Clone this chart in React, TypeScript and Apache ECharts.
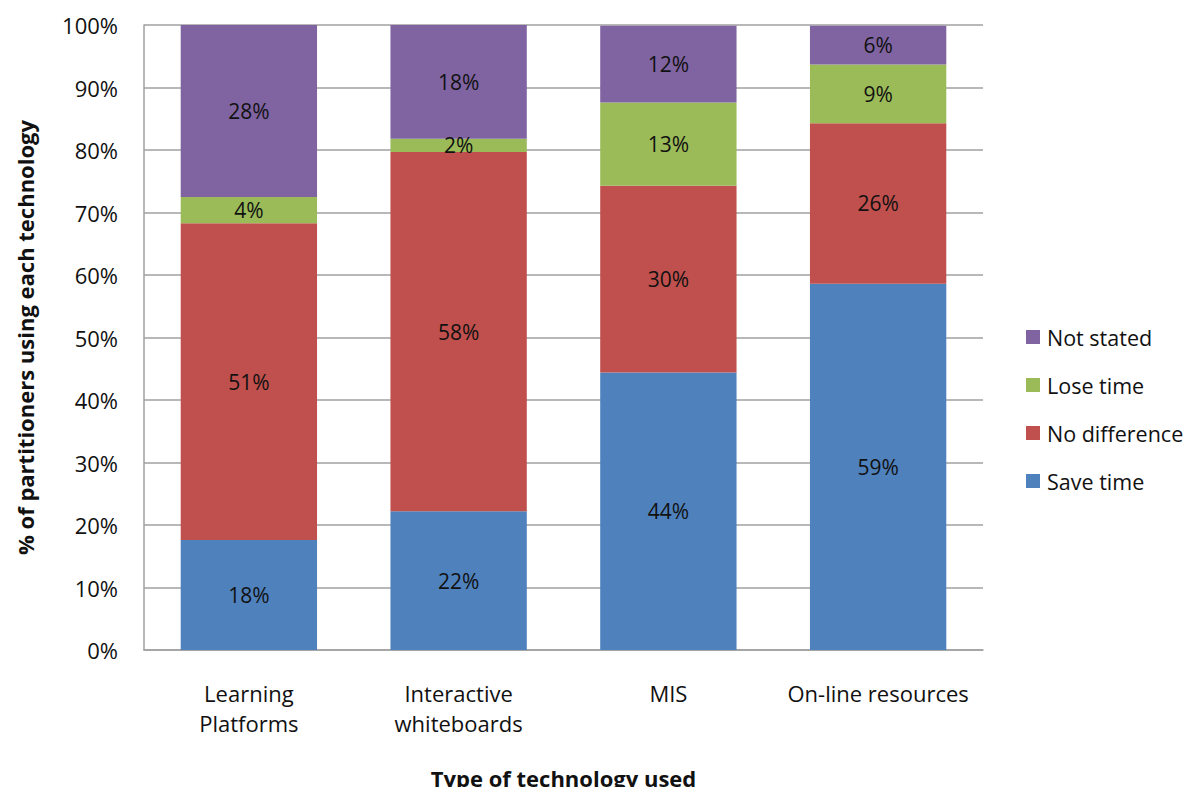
import React, { useEffect, useRef } from "react";
import * as echarts from "echarts";

const categories = ["Learning\nPlatforms", "Interactive\nwhiteboards", "MIS", "On-line resources"];
const saveTime = [17.6, 22.2, 44.4, 58.6];
const noDifference = [50.7, 57.5, 29.9, 25.7];
const loseTime = [4.2, 2.1, 13.3, 9.4];
const notStated = [27.5, 18.2, 12.3, 6.2];
const yTicks = [0, 10, 20, 30, 40, 50, 60, 70, 80, 90, 100];

const FONT = "'Open Sans', 'Noto Sans', sans-serif";

export default function App() {
  const ref = useRef<HTMLDivElement>(null);
  useEffect(() => {
    if (!ref.current) return;
    const chart = echarts.init(ref.current, undefined, { renderer: "svg" });
    const mkSeries = (name: string, data: number[], color: string) => ({
      name,
      type: "bar",
      stack: "total",
      data,
      barWidth: "65%",
      itemStyle: { color },
      label: {
        show: true,
        position: "inside",
        color: "#111",
        fontFamily: FONT,
        fontSize: 21,
        formatter: (p: any) => Math.round(p.value) + "%",
      },
    });
    chart.setOption({
      animation: false,
      backgroundColor: "#fff",
      textStyle: { fontFamily: FONT },
      grid: {
        left: 144,
        right: 211,
        top: 25,
        bottom: 137,
        containLabel: false,
        outerBoundsMode: "none",
      },
      legend: {
        orient: "vertical",
        left: 1021,
        top: 321,
        itemWidth: 14,
        itemHeight: 14,
        itemGap: 26,
        icon: "rect",
        data: ["Not stated", "Lose time", "No difference", "Save time"],
        textStyle: { fontFamily: FONT, fontSize: 21.5, color: "#111", lineHeight: 20, padding: [0, 0, 0, 2] },
      },
      xAxis: {
        type: "category",
        data: categories,
        name: "Type of technology used",
        nameLocation: "middle",
        nameGap: 117,
        nameTextStyle: { fontFamily: FONT, fontSize: 22, fontWeight: "bold", color: "#111" },
        axisLine: { lineStyle: { color: "#a0a0a0", width: 1.5 } },
        axisTick: { show: false },
        axisLabel: { fontFamily: FONT, fontSize: 22, color: "#111", lineHeight: 30, margin: 28, interval: 0 },
      },
      yAxis: {
        type: "value",
        min: yTicks[0],
        max: yTicks[yTicks.length - 1],
        interval: 10,
        name: "% of partitioners using each technology",
        nameLocation: "middle",
        nameGap: 108,
        nameTextStyle: { fontFamily: FONT, fontSize: 22, fontWeight: "bold", color: "#111" },
        axisLine: { show: true, lineStyle: { color: "#a0a0a0", width: 1.5 } },
        axisTick: { show: false },
        splitLine: { lineStyle: { color: "#a0a0a0", width: 1.5 } },
        axisLabel: { fontFamily: FONT, fontSize: 22, color: "#111", margin: 26, formatter: "{value}%" },
      },
      series: [
        mkSeries("Save time", saveTime, "#4F81BD"),
        mkSeries("No difference", noDifference, "#C0504D"),
        mkSeries("Lose time", loseTime, "#9BBB59"),
        mkSeries("Not stated", notStated, "#8064A2"),
      ],
    });
    return () => chart.dispose();
  }, []);
  return (
    <div
      ref={ref}
      style={{ position: "fixed", left: 0, top: 0, width: 1194, height: 787 }}
    />
  );
}
